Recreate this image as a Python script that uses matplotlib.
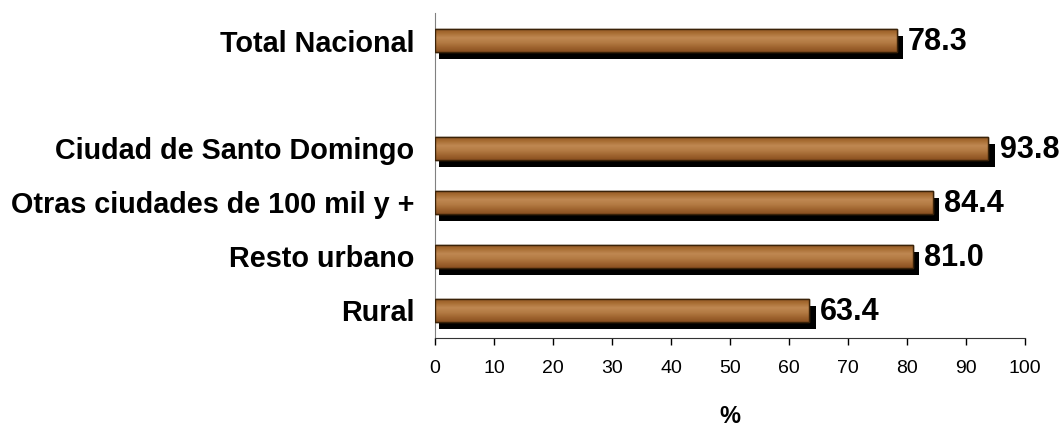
import numpy as np
import matplotlib
matplotlib.use("Agg")
import matplotlib.pyplot as plt
from matplotlib.colors import LinearSegmentedColormap

plt.rcParams['font.family'] = ['Liberation Sans', 'DejaVu Sans']

# datos
categorias = ["Rural", "Resto urbano", "Otras ciudades de 100 mil y +",
              "Ciudad de Santo Domingo", "Total Nacional"]
valores = [63.4, 81.0, 84.4, 93.8, 78.3]
posiciones = [0, 1, 2, 3, 5]   # hueco entre Ciudad y Total
xticks = list(range(0, 101, 10))

fig = plt.figure(figsize=(10.62, 4.26), dpi=100)
ax = fig.add_axes([0.4096, 0.2066, 0.5556, 0.7629])

alto = 0.43
# madera: degradado vertical (oscuro en bordes, claro al centro)
madera = LinearSegmentedColormap.from_list(
    "madera", ["#8e5522", "#a86d33", "#bf8852", "#b47b44", "#a06530", "#8a5020"])
grad = np.linspace(0, 1, 64).reshape(-1, 1)

for y, v in zip(posiciones, valores):
    # sombra negra
    ax.barh(y - 0.124, v + 0.4, left=0.7, height=alto, color="black", zorder=2)
    barra = ax.barh(y, v, height=alto, color="#b07a45",
                    edgecolor="#3a2208", linewidth=1.0, zorder=3)[0]
    im = ax.imshow(grad, cmap=madera, aspect="auto", zorder=3.5,
                   extent=[0, v, y - alto / 2, y + alto / 2])
    im.set_clip_path(barra)
    ax.barh(y, v, height=alto, fill=False, edgecolor="#3a2208",
            linewidth=1.0, zorder=4)
    ax.text(v + 1.9, y - 0.03, f"{v:.1f}", va="center", ha="left",
            fontsize=22, fontweight="bold", zorder=5, clip_on=False)

ax.set_xlim(0, 100)
ax.set_ylim(-0.51, 5.51)
ax.set_xticks(xticks)
ax.set_yticks(posiciones)
ax.set_yticklabels(categorias, fontsize=20.7, fontweight="bold")
ax.tick_params(axis="y", length=0, pad=15)
ax.tick_params(axis="x", length=5, width=1, direction="out", pad=11, labelsize=14)
ax.set_xlabel("%", fontsize=17, fontweight="bold", labelpad=20)

for s in ["top", "right"]:
    ax.spines[s].set_visible(False)
ax.spines["left"].set_color("#808080")
ax.spines["bottom"].set_color("#333333")

fig.savefig("out.png", dpi=100)
